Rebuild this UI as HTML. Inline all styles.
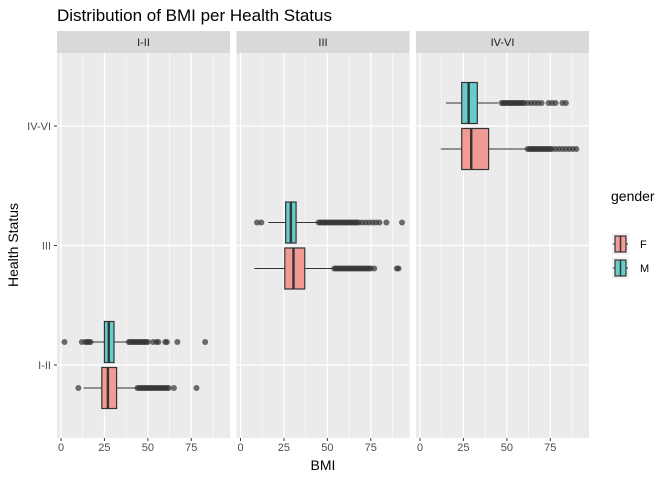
<!DOCTYPE html>
<html><head><meta charset="utf-8"><style>
body{margin:0;background:#fff;}
svg{display:block;font-family:"Liberation Sans",sans-serif;}
</style></head><body>
<svg id="chart" width="672" height="480"></svg>
<script>
const panels = ["I-II","III","IV-VI"];
const groups = ["I-II","III","IV-VI"];
const xTicks = [0,25,50,75];
// stats per panel: [q1, median, q3, whiskerLow, whiskerHigh]
const statsF = [[23.5,27,32,13,44],[25.5,30.5,37,8,54],[24,29.5,39.5,12,62]];
const statsM = [[25,27.5,30.5,14,39],[26,29,32,16,45],[24,28,33,15,45]];
const outF = [
 [10,44,45,46,47,48,49,50,51,52,53,54,55,56,57,58,59,60,61,62,65,78],
 [54,55,56,57,58,59,60,61,62,63,64,65,66,67,68,69,70,71,72,73,74,75,77,90,91],
 [62,63,64,65,66,67,68,69,70,71,72,73,74,75,76,78,80,82,84,86,88,90]
];
const outM = [
 [2,12,14,15,16,17,39,40,41,42,43,44,45,46,47,48,49,50,53,55,56,60,61,67,83],
 [9.5,12,45,46,47,48,49,50,51,52,53,54,55,56,57,58,59,60,61,62,63,64,65,66,67,68,70,72,74,76,78,80,84,93],
 [47,48,49,50,51,52,53,54,55,56,57,58,59,60,62,64,66,68,70,74,76,78,82,84]
];

const NS="http://www.w3.org/2000/svg";
const svg=document.getElementById('chart');
function el(tag,attrs,parent){const e=document.createElementNS(NS,tag);for(const k in attrs)e.setAttribute(k,attrs[k]);(parent||svg).appendChild(e);return e;}
const PT=53,PB=438,PW=173;
function panelLeft(i){return 57+i*179.5;}
function xs(i,v){return panelLeft(i)+4+v*1.737;}
function ys(g){return 365-g*119.5;}

const title=el('text',{x:57,y:21,'font-size':17,fill:'#000'});title.textContent='Distribution of BMI per Health Status';



panels.forEach((p,i)=>{
  const L=panelLeft(i);
  const strip=el('rect',{x:L,y:31,width:PW,height:22,fill:'#d9d9d9'});
  
  
  const st=el('text',{x:L+PW/2,y:46,'font-size':11,fill:'#1a1a1a','text-anchor':'middle'});st.textContent=p;
  
  
  const bg=el('rect',{x:L,y:PT,width:PW,height:PB-PT,fill:'#ebebeb'});
  
  
  for(let k=0;k<xTicks.length;k++){
    const mx=xs(i,xTicks[k]+12.5);
    if(mx<L+PW) el('line',{x1:mx,x2:mx,y1:PT,y2:PB,stroke:'#fff','stroke-width':0.6});
  }
  groups.forEach((g,gi)=>{el('line',{x1:L,x2:L+PW,y1:ys(gi),y2:ys(gi),stroke:'#fff','stroke-width':1.2});});
  xTicks.forEach(t=>{
    const x=xs(i,t);
    el('line',{x1:x,x2:x,y1:PT,y2:PB,stroke:'#fff','stroke-width':1.2});
    el('line',{x1:x,x2:x,y1:PB,y2:PB+3,stroke:'#333','stroke-width':1});
    const tl=el('text',{x:x,y:PB+13,'font-size':11,fill:'#4d4d4d','text-anchor':'middle'});tl.textContent=t;
    
    
  });
  // boxes: only group i has data in panel i
  [[statsM[i],outM[i],'#66cccc',-23,'m'],[statsF[i],outF[i],'#f29a94',23,'f']].forEach(([s,o,c,off,gname])=>{
    const cy=ys(i)+off, h=41;
    const w=el('line',{x1:xs(i,s[3]),x2:xs(i,s[4]),y1:cy,y2:cy,stroke:'#333','stroke-width':1});
    
    
    o.forEach(v=>{
      const pt=el('circle',{cx:xs(i,v),cy:cy,r:3,fill:'#333','fill-opacity':0.7});
      
      
    });
    const b=el('rect',{x:xs(i,s[0]),y:cy-h/2,width:xs(i,s[2])-xs(i,s[0]),height:h,fill:c,stroke:'#333','stroke-width':1.2});
    
    
    el('line',{x1:xs(i,s[1]),x2:xs(i,s[1]),y1:cy-h/2,y2:cy+h/2,stroke:'#333','stroke-width':2.4});
  });
});
groups.forEach((g,gi)=>{
  const y=ys(gi);
  el('line',{x1:54,x2:57,y1:y,y2:y,stroke:'#333','stroke-width':1});
  const t=el('text',{x:51,y:y+4,'font-size':11,fill:'#4d4d4d','text-anchor':'end'});t.textContent=g;
  
  
});
const xt=el('text',{x:323,y:470,'font-size':14,fill:'#000','text-anchor':'middle'});xt.textContent='BMI';


const yt=el('text',{x:18,y:245,'font-size':14,fill:'#000','text-anchor':'middle',transform:'rotate(-90 18 245)'});yt.textContent='Health Status';


const lt=el('text',{x:611,y:201,'font-size':14,fill:'#000'});lt.textContent='gender';


[['F','#f29a94',233],['M','#66cccc',257]].forEach(([n,c,y])=>{
  const k=el('rect',{x:612,y:y,width:17,height:22,fill:'#f2f2f2'});
  
  
  el('line',{x1:613,x2:628,y1:y+11,y2:y+11,stroke:'#333','stroke-width':1});
  el('rect',{x:615,y:y+3,width:11,height:16,fill:c,stroke:'#333','stroke-width':1.2});
  el('line',{x1:620.5,x2:620.5,y1:y+3,y2:y+19,stroke:'#333','stroke-width':1.5});
  const t=el('text',{x:640,y:y+15,'font-size':11,fill:'#000'});t.textContent=n;
  
  
});
</script>
</body></html>
